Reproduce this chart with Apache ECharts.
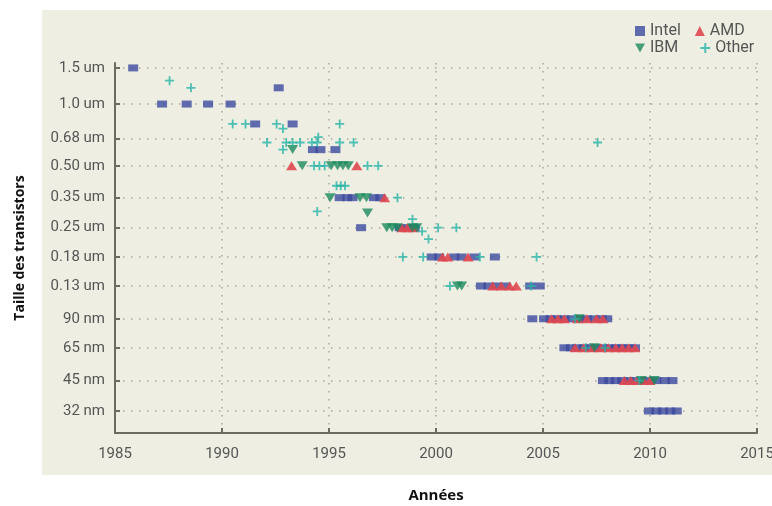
<!DOCTYPE html>
<html>
<head>
<meta charset="utf-8">
<script src="https://cdn.jsdelivr.net/npm/echarts@6/dist/echarts.min.js"></script>
<style>
  html,body{margin:0;padding:0;background:#fff;}
  #main{width:772px;height:506px;}
</style>
</head>
<body>
<div id="main"></div>
<script>
// tailles en nm, années en décimal
const tickSizes = [1500, 1000, 680, 500, 350, 250, 180, 130, 90, 65, 45, 32];
const tickLabels = ['1.5 um', '1.0 um', '0.68 um', '0.50 um', '0.35 um', '0.25 um', '0.18 um', '0.13 um', '90 nm', '65 nm', '45 nm', '32 nm'];

const intel = [
  [1985.85, 1500], [1987.2, 1000], [1988.35, 1000], [1989.35, 1000], [1990.4, 1000], [1992.65, 1200],
  [1991.55, 800], [1993.3, 800],
  [1994.25, 600], [1994.6, 600], [1995.3, 600],
  [1995.5, 350], [1995.85, 350], [1996.1, 350], [1997.1, 350], [1997.4, 350],
  [1996.5, 250], [1998.3, 250], [1998.7, 250], [1999.0, 250],
  [1999.8, 180], [2000.15, 180], [2000.85, 180], [2001.2, 180], [2001.8, 180], [2002.75, 180],
  [2002.1, 130], [2002.45, 130], [2002.85, 130], [2003.25, 130], [2004.4, 130], [2004.85, 130],
  [2004.5, 90], [2005.05, 90], [2005.35, 90], [2005.65, 90], [2006.0, 90], [2006.35, 90], [2006.7, 90],
  [2007.05, 90], [2007.4, 90], [2007.75, 90], [2008.0, 90],
  [2006.0, 65], [2006.3, 65], [2006.6, 65], [2006.9, 65], [2007.2, 65], [2007.5, 65], [2007.8, 65],
  [2008.1, 65], [2008.4, 65], [2008.7, 65], [2009.0, 65], [2009.3, 65],
  [2007.8, 45], [2008.1, 45], [2008.4, 45], [2008.7, 45], [2009.0, 45], [2009.3, 45], [2009.6, 45],
  [2009.9, 45], [2010.3, 45], [2010.7, 45], [2011.05, 45],
  [2009.95, 32], [2010.3, 32], [2010.6, 32], [2010.95, 32], [2011.25, 32]
];
const amd = [
  [1993.25, 500], [1996.3, 500], [1997.6, 350],
  [1998.4, 250], [1998.65, 250], [1998.95, 250],
  [2000.3, 180], [2000.55, 180], [2001.5, 180],
  [2002.65, 130], [2003.05, 130], [2003.45, 130], [2003.75, 130],
  [2005.4, 90], [2005.7, 90], [2006.0, 90], [2006.6, 90], [2007.05, 90], [2007.5, 90], [2007.8, 90],
  [2006.5, 65], [2006.9, 65], [2007.3, 65], [2007.7, 65], [2008.05, 65], [2008.4, 65], [2008.7, 65], [2009.0, 65], [2009.3, 65],
  [2008.8, 45], [2009.1, 45], [2009.4, 45], [2009.7, 45], [2010.0, 45]
];
const ibm = [
  [1993.3, 600], [1993.75, 500], [1995.1, 500], [1995.4, 500], [1995.65, 500], [1995.9, 500],
  [1995.05, 350], [1996.45, 350], [1996.75, 350], [1996.8, 295],
  [1997.7, 250], [1997.95, 250], [1998.2, 250], [1998.9, 250], [1999.1, 250],
  [2001.0, 130], [2001.2, 130],
  [2006.7, 90], [2007.4, 65], [2009.6, 45], [2010.2, 45]
];
const other = [
  [1987.55, 1300], [1988.55, 1200],
  [1990.5, 800], [1991.1, 800], [1992.55, 800], [1995.5, 800], [1992.85, 760],
  [1992.1, 650], [1993.0, 650], [1993.3, 650], [1993.65, 650], [1994.2, 650], [1994.45, 650], [1994.5, 690],
  [1995.5, 650], [1996.15, 650], [2007.55, 650],
  [1992.85, 600],
  [1994.3, 500], [1994.55, 500], [1994.8, 500], [1996.8, 500], [1997.3, 500],
  [1995.35, 400], [1995.55, 400], [1995.75, 400],
  [1998.2, 350], [1994.45, 300],
  [1998.9, 275], [1999.35, 240], [1999.65, 220], [2000.1, 250], [2000.95, 250],
  [1998.45, 180], [1999.4, 180], [2002.05, 180], [2004.7, 180],
  [2000.65, 130], [2004.45, 130],
  [2006.5, 90], [2007.0, 65], [2007.9, 65], [2009.5, 45]
];

const tickPos = tickSizes.map(s => Math.log10(s));
const toLog = arr => arr.map(p => [p[0], Math.log10(p[1])]);
const PLUS = 'path://M4,0H6V4H10V6H6V10H4V6H0V4H4Z';
const DOWN = 'path://M0,0L10,0L5,9Z';
const dotted = {color: '#a8a89c', width: 1.5, type: [1.5, 6.5]};
const axisCol = '#6b6b62';

const chart = echarts.init(document.getElementById('main'));
chart.setOption({
  animation: false,
  textStyle: {fontFamily: 'Roboto'},
  graphic: [{
    type: 'rect', left: 42, top: 10, z: -10, silent: true,
    shape: {width: 730, height: 465},
    style: {fill: '#eeeee3'}
  }],
  grid: {left: 115, right: 15, top: 63, bottom: 73, outerBoundsMode: 'none', containLabel: false},
  legend: [
    {data: ['Intel', 'AMD'], left: 630, top: 18, itemWidth: 10, itemHeight: 10, itemGap: 14,
      textStyle: {color: '#555', fontSize: 16}},
    {data: ['IBM', 'Other'], left: 630, top: 35, itemWidth: 10, itemHeight: 10, itemGap: 22,
      textStyle: {color: '#555', fontSize: 16}}
  ],
  xAxis: {
    type: 'value', min: 1985, max: 2015, interval: 5,
    name: 'Années', nameLocation: 'middle', nameGap: 55,
    nameTextStyle: {fontFamily: 'Open Sans', fontWeight: 'bold', fontSize: 15, color: '#111'},
    axisLine: {lineStyle: {color: axisCol, width: 2}},
    axisTick: {inside: true, length: 5, lineStyle: {color: axisCol, width: 2}},
    axisLabel: {color: '#555', fontSize: 15, margin: 14, formatter: v => String(v)},
    splitLine: {show: true, lineStyle: dotted}
  },
  yAxis: {
    type: 'value', min: Math.log10(25), max: 3.2,
    name: 'Taille des transistors', nameLocation: 'middle', nameGap: 88,
    nameTextStyle: {fontFamily: 'Open Sans', fontWeight: 'bold', fontSize: 14, color: '#111'},
    axisLine: {show: true, lineStyle: {color: axisCol, width: 2}},
    axisTick: {show: true, inside: true, length: 5, customValues: tickPos, lineStyle: {color: axisCol, width: 2}},
    axisLabel: {
      color: '#555', fontSize: 15, margin: 10, customValues: tickPos,
      formatter: v => {
        const i = tickPos.findIndex(t => Math.abs(t - v) < 1e-6);
        return i >= 0 ? tickLabels[i] : '';
      }
    },
    splitLine: {show: true, lineStyle: dotted}
  },
  series: [
    {name: 'Intel', type: 'scatter', symbol: 'rect', symbolSize: [10, 7],
      itemStyle: {color: '#3c4a9f'}, data: toLog(intel)},
    {name: 'AMD', type: 'scatter', symbol: 'triangle', symbolSize: [11, 9],
      itemStyle: {color: '#e0474f', opacity: 0.9}, data: toLog(amd)},
    {name: 'IBM', type: 'scatter', symbol: DOWN, symbolSize: [11, 9],
      itemStyle: {color: '#1a8a5c'}, data: toLog(ibm)},
    {name: 'Other', type: 'scatter', symbol: PLUS, symbolSize: 9,
      itemStyle: {color: '#26b3a6'}, data: toLog(other)}
  ]
});
</script>
</body>
</html>
